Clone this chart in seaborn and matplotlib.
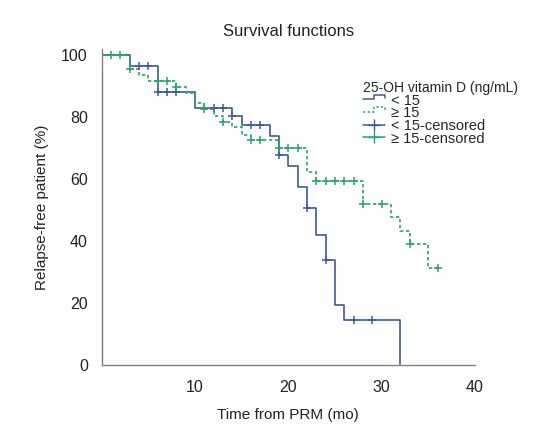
import numpy as np
import pandas as pd
import seaborn as sns
import matplotlib
matplotlib.use("Agg")
import matplotlib.pyplot as plt
from matplotlib.lines import Line2D
from matplotlib.legend_handler import HandlerBase

# ---- data ----
low_time = [0, 3, 6, 10, 14, 15, 18, 19, 20, 21, 22, 23, 24, 25, 26, 32]
low_surv = [100, 96.5, 88, 83, 80.3, 77.4, 74, 67.7, 64.3, 57.4, 50.7, 42, 33.9, 19.3, 14.5, 0]
high_time = [0, 3, 4, 5, 8, 9, 10, 11, 12, 13, 14, 15, 16, 19, 22, 23, 28, 31, 32, 33, 35, 36]
high_surv = [100, 95.4, 93.5, 91.7, 89.8, 87.8, 84.4, 82.5, 80.4, 78.5, 76.8, 74.2, 72.5, 70,
             62.2, 59.3, 51.9, 47.6, 43.3, 39, 31.2, 31.2]
low_cens_time = [4, 5, 6, 7, 8, 12, 13, 14, 16, 17, 19, 22, 24, 27, 29]
low_cens_surv = [96.5, 96.5, 88, 88, 88, 83, 83, 80.3, 77.4, 77.4, 67.7, 50.7, 33.9, 14.5, 14.5]
high_cens_time = [1, 2, 3, 6, 7, 8, 11, 13, 16, 17, 19, 20, 21, 23, 24, 25, 26, 27, 28, 30, 33, 36]
high_cens_surv = [100, 100, 95.4, 91.7, 91.7, 89.8, 82.5, 78.5, 72.5, 72.5, 70, 70, 70,
                  59.3, 59.3, 59.3, 59.3, 59.3, 51.9, 51.9, 39, 31.2]
group_labels = ["< 15", "\u2265 15", "< 15-censored", "\u2265 15-censored"]
x_ticks = [10, 20, 30, 40]
y_ticks = [0, 20, 40, 60, 80, 100]

BLUE = "#3d5a9a"
GREEN = "#25a46c"
GREY = "#808080"

sns.set_style("white")
plt.rcParams["font.family"] = ["Liberation Sans", "DejaVu Sans"]

fig = plt.figure(figsize=(5.48, 4.41), dpi=100)
ax = fig.add_axes([0.1856, 0.1723, 0.6812, 0.7170])

low_df = pd.DataFrame({"t": low_time, "s": low_surv})
high_df = pd.DataFrame({"t": high_time, "s": high_surv})
lc_df = pd.DataFrame({"t": low_cens_time, "s": low_cens_surv})
hc_df = pd.DataFrame({"t": high_cens_time, "s": high_cens_surv})

sns.lineplot(data=low_df, x="t", y="s", ax=ax, color=BLUE, lw=1.2,
             drawstyle="steps-post", estimator=None, sort=False)
sns.lineplot(data=high_df, x="t", y="s", ax=ax, color=GREEN, lw=1.2,
             drawstyle="steps-post", estimator=None, sort=False,
             linestyle=(0, (2.0, 1.6)))
sns.scatterplot(data=lc_df, x="t", y="s", ax=ax, color=BLUE, marker="+",
                s=30, linewidth=1.1, zorder=5)
sns.scatterplot(data=hc_df, x="t", y="s", ax=ax, color=GREEN, marker="+",
                s=30, linewidth=1.1, zorder=5)

ax.set_xlim(0, 40)
ax.set_ylim(0, 102)
ax.set_xticks(x_ticks)
ax.set_yticks(y_ticks)
ax.tick_params(direction="in", length=5, width=0.9, color=GREY, labelsize=11.5,
               labelcolor="#222222", pad=10)
ax.tick_params(axis="x", pad=11)
for side in ["top", "right"]:
    ax.spines[side].set_visible(False)
for side in ["left", "bottom"]:
    ax.spines[side].set_color(GREY)
    ax.spines[side].set_linewidth(1.0)

ax.set_xlabel("Time from PRM (mo)", fontsize=11, color="#222222", labelpad=9)
ax.set_ylabel("Relapse-free patient (%)", fontsize=11, color="#222222", labelpad=9)
ax.set_title("Survival functions", fontsize=12, color="#222222", pad=9)


class StepHandler(HandlerBase):
    def __init__(self, color, ls):
        super().__init__()
        self.color = color
        self.ls = ls

    def create_artists(self, legend, orig_handle, xdescent, ydescent, width, height,
                       fontsize, trans):
        x0 = -xdescent
        y0 = -ydescent
        xs = [x0, x0 + 0.5 * width, x0 + 0.5 * width, x0 + width, x0 + width]
        ys = [y0 + 0.55 * height, y0 + 0.55 * height, y0 + 1.0 * height,
              y0 + 1.0 * height, y0 + 0.7 * height]
        ln = Line2D(xs, ys, color=self.color, lw=1.1, linestyle=self.ls, transform=trans)
        return [ln]


h_low = Line2D([], [], color=BLUE)
h_high = Line2D([], [], color=GREEN)
h_lc = Line2D([], [], color=BLUE, marker="+", markersize=8, lw=1.1)
h_hc = Line2D([], [], color=GREEN, marker="+", markersize=8, lw=1.1)
leg = ax.legend([h_low, h_high, h_lc, h_hc], group_labels,
                handler_map={h_low: StepHandler(BLUE, "-"),
                             h_high: StepHandler(GREEN, (0, (1.5, 1.5)))},
                title="25-OH vitamin D (ng/mL)", title_fontsize=10, fontsize=10.5,
                loc="upper left", bbox_to_anchor=(0.68, 0.92), frameon=False,
                borderpad=0, handlelength=1.5, handletextpad=0.4, labelspacing=-0.1,
                alignment="left")

fig.savefig("out.png", dpi=100)
